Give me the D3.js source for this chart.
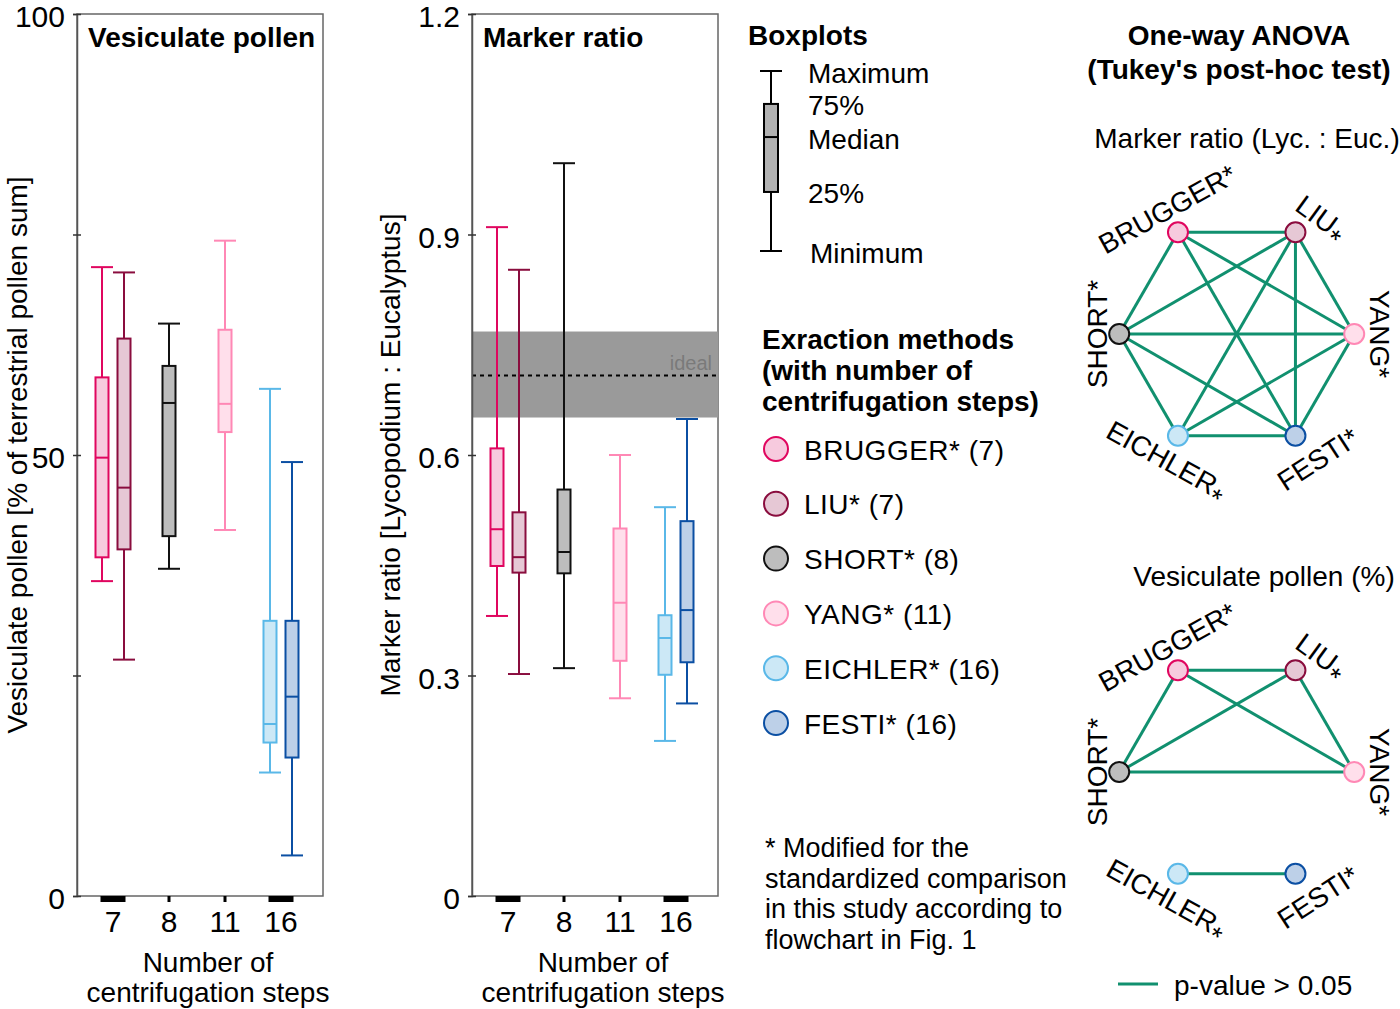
<!DOCTYPE html>
<html>
<head>
<meta charset="utf-8">
<script src="https://cdn.jsdelivr.net/npm/d3@7"></script>
<style>
  body { margin: 0; background: #fff; }
  text { font-family: "Liberation Sans", Arial, sans-serif; fill: #000; }
</style>
</head>
<body>
<div class="main"></div>
<script>
// Méthodes d'extraction et nombre d'étapes de centrifugation
const methods = ["BRUGGER", "LIU", "SHORT", "YANG", "EICHLER", "FESTI"];
const steps = ["7", "7", "8", "11", "16", "16"];
const stepGroups = ["7", "8", "11", "16"];

// Boxplots : [min, 25%, médiane, 75%, max]
const vesiculate = [
  [35.7, 38.4, 49.7, 58.8, 71.3],
  [26.8, 39.3, 46.3, 63.2, 70.7],
  [37.1, 40.8, 55.9, 60.1, 64.9],
  [41.5, 52.6, 55.8, 64.2, 74.3],
  [14.0, 17.4, 19.5, 31.2, 57.5],
  [4.6, 15.7, 22.6, 31.2, 49.2]
];
const markerRatio = [
  [0.381, 0.449, 0.499, 0.609, 0.910],
  [0.302, 0.440, 0.461, 0.522, 0.852],
  [0.310, 0.439, 0.468, 0.553, 0.997],
  [0.269, 0.320, 0.399, 0.500, 0.600],
  [0.211, 0.301, 0.351, 0.382, 0.529],
  [0.262, 0.318, 0.389, 0.510, 0.649]
];
const idealBand = [0.651, 0.768];
const idealValue = 0.708;

const vesiculateTicks = [0, 25, 50, 75, 100];
const ratioTicks = [0, 0.3, 0.6, 0.9, 1.2];

// Couleurs
const strokeColors = ["#e0065f", "#8a0d3e", "#111111", "#ff88b5", "#5ab8e8", "#0b4fa3"];
const fillColors = ["#f7cade", "#e6c8d5", "#bdbdbd", "#ffdfeb", "#cce8f6", "#bdd0e8"];

// Légende boxplot (schéma)
const legendStats = [0, 0.328, 0.633, 0.817, 1];
const legendLabels = ["Minimum", "25%", "Median", "75%", "Maximum"];

// ANOVA : positions angulaires des méthodes et paires non significatives
const methodAngles = [120, 60, 180, 0, -120, -60];
const labelAngles = [119, 54, 180, 0, -119, -57];
const labelRadii = [143, 144, 140, 143, 144, 149];
const lowStar = ["LIU", "EICHLER"];
const markerEdges = [
  ["BRUGGER", "LIU"], ["BRUGGER", "SHORT"], ["BRUGGER", "YANG"], ["BRUGGER", "FESTI"],
  ["LIU", "SHORT"], ["LIU", "EICHLER"], ["LIU", "FESTI"], ["LIU", "YANG"],
  ["SHORT", "YANG"], ["SHORT", "EICHLER"], ["SHORT", "FESTI"],
  ["YANG", "EICHLER"], ["YANG", "FESTI"], ["EICHLER", "FESTI"]
];
const vesiculateEdges = [
  ["BRUGGER", "LIU"], ["BRUGGER", "SHORT"], ["BRUGGER", "YANG"],
  ["LIU", "SHORT"], ["LIU", "YANG"], ["SHORT", "YANG"], ["EICHLER", "FESTI"]
];

const W = 1400, H = 1009;
const svg = d3.select('.main').append('svg')
    .attr('width', W).attr('height', H);

const plotW = 246, plotH = 882, plotTop = 14;
const edgeColor = "#11906f";
const FS = "28px";

// Position x : groupe d'étapes + décalage dans la paire
const xGroup = d3.scalePoint().domain(stepGroups).range([36, 204]);
function xMethod(i) {
  const members = methods.filter((m, j) => steps[j] === steps[i]);
  const inner = d3.scalePoint().domain(members).range([-11, 11]);
  return xGroup(steps[i]) + inner(methods[i]);
}

function boxPanel(left, stats, domain, ticks, fmt, title, ylabel, labelOffset, extra) {
  const g = svg.append("g").attr("transform", "translate(" + left + "," + plotTop + ")");
  const y = d3.scaleLinear().domain(domain).range([plotH, 0]);

  g.append("rect").attr("width", plotW).attr("height", plotH)
    .attr("fill", "none").attr("stroke", "#666").attr("stroke-width", 1.5);

  if (extra) extra(g, y);

  const ax = g.append("g").call(d3.axisLeft(y).tickValues(ticks).tickFormat(fmt).tickSize(4).tickPadding(8));
  ax.select(".domain").attr("stroke", "#555").attr("stroke-width", 1.5);
  ax.selectAll(".tick line").attr("x1", -4).attr("x2", 4).attr("stroke", "#333").attr("stroke-width", 1.5);
  ax.selectAll(".tick text").style("font-size", "30px").attr("fill", "#000").attr("dy", "0.42em")
    .style("font-family", '"Liberation Sans", Arial, sans-serif');

  // Marques de groupes sur l'axe x
  stepGroups.forEach(function(s) {
    const xs = methods.map((m, i) => i).filter(i => steps[i] === s).map(xMethod);
    g.append("rect")
      .attr("x", d3.min(xs) - 1.5).attr("y", plotH)
      .attr("width", d3.max(xs) - d3.min(xs) + 3).attr("height", 6)
      .attr("fill", "#000");
    g.append("text").attr("x", xGroup(s)).attr("y", plotH + 36)
      .attr("text-anchor", "middle").style("font-size", "30px").text(s);
  });

  // Boxplots
  const bw = 13, cw = 22;
  stats.forEach(function(d, i) {
    const cx = xMethod(i);
    const b = g.append("g").attr("stroke", strokeColors[i]).attr("stroke-width", 2);
    b.append("line").attr("x1", cx).attr("x2", cx).attr("y1", y(d[4])).attr("y2", y(d[0]));
    b.append("line").attr("x1", cx - cw / 2).attr("x2", cx + cw / 2).attr("y1", y(d[4])).attr("y2", y(d[4]));
    b.append("line").attr("x1", cx - cw / 2).attr("x2", cx + cw / 2).attr("y1", y(d[0])).attr("y2", y(d[0]));
    b.append("rect").attr("x", cx - bw / 2).attr("y", y(d[3]))
      .attr("width", bw).attr("height", y(d[1]) - y(d[3])).attr("fill", fillColors[i]);
    b.append("line").attr("x1", cx - bw / 2).attr("x2", cx + bw / 2).attr("y1", y(d[2])).attr("y2", y(d[2]));
  });

  g.append("text").attr("x", 11).attr("y", 33)
    .style("font-size", FS).style("font-weight", "bold").text(title);

  g.append("text").attr("transform", "translate(" + labelOffset + "," + (plotH / 2) + ") rotate(-90)")
    .attr("text-anchor", "middle").attr("dominant-baseline", "central")
    .style("font-size", FS).text(ylabel);

  g.append("text").attr("x", 131).attr("y", plotH + 76).attr("text-anchor", "middle")
    .style("font-size", FS).text("Number of");
  g.append("text").attr("x", 131).attr("y", plotH + 106).attr("text-anchor", "middle")
    .style("font-size", FS).text("centrifugation steps");
}

boxPanel(77, vesiculate, [0, 100], vesiculateTicks, d => d % 50 === 0 ? d : "",
  "Vesiculate pollen", "Vesiculate pollen [% of terrestrial pollen sum]", -60);

boxPanel(472, markerRatio, [0, 1.2], ratioTicks, d => d === 0 ? "0" : d3.format(".1f")(d),
  "Marker ratio", "Marker ratio [Lycopodium : Eucalyptus]", -82,
  function(g, y) {
    g.append("rect").attr("x", 0).attr("width", plotW)
      .attr("y", y(idealBand[1])).attr("height", y(idealBand[0]) - y(idealBand[1]))
      .attr("fill", "#9a9a9a");
    g.append("line").attr("x1", 0).attr("x2", plotW)
      .attr("y1", y(idealValue)).attr("y2", y(idealValue))
      .attr("stroke", "#000").attr("stroke-width", 2).attr("stroke-dasharray", "4,4");
    g.append("text").attr("x", plotW - 6).attr("y", y(idealValue) - 6)
      .attr("text-anchor", "end").style("font-size", "20px").style("fill", "#7a7a7a").text("ideal");
  });

// Légende des boxplots
const lg = svg.append("g");
lg.append("text").attr("x", 748).attr("y", 45).style("font-size", FS)
  .style("font-weight", "bold").text("Boxplots");
const ly = d3.scaleLinear().domain([0, 1]).range([251, 71]);
const lx = 771;
lg.append("line").attr("x1", lx).attr("x2", lx).attr("y1", ly(1)).attr("y2", ly(0))
  .attr("stroke", "#000").attr("stroke-width", 2);
[0, 4].forEach(k => lg.append("line").attr("x1", lx - 11).attr("x2", lx + 11)
  .attr("y1", ly(legendStats[k])).attr("y2", ly(legendStats[k])).attr("stroke", "#000").attr("stroke-width", 2));
lg.append("rect").attr("x", lx - 7).attr("width", 14)
  .attr("y", ly(legendStats[3])).attr("height", ly(legendStats[1]) - ly(legendStats[3]))
  .attr("fill", "#b2b2b2").attr("stroke", "#000").attr("stroke-width", 2);
lg.append("line").attr("x1", lx - 7).attr("x2", lx + 7)
  .attr("y1", ly(legendStats[2])).attr("y2", ly(legendStats[2])).attr("stroke", "#000").attr("stroke-width", 2);
legendLabels.forEach(function(t, k) {
  lg.append("text").attr("x", k === 0 ? 810 : 808).attr("y", ly(legendStats[k]) + 2)
    .attr("dominant-baseline", "central").style("font-size", FS).text(t);
});

// Légende des méthodes
["Exraction methods", "(with number of", "centrifugation steps)"].forEach(function(t, k) {
  svg.append("text").attr("x", 762).attr("y", 349 + k * 31).style("font-size", FS)
    .style("font-weight", "bold").text(t);
});
const my = d3.scalePoint().domain(methods).range([449, 723]);
methods.forEach(function(m, i) {
  svg.append("circle").attr("cx", 776).attr("cy", my(m)).attr("r", 12)
    .attr("fill", fillColors[i]).attr("stroke", strokeColors[i]).attr("stroke-width", 2);
  svg.append("text").attr("x", 804).attr("y", my(m) + 1).attr("dominant-baseline", "central")
    .style("font-size", FS).style("letter-spacing", "0.5px").text(m + "* (" + steps[i] + ")");
});

["* Modified for the", "standardized comparison", "in this study according to", "flowchart in Fig. 1"]
  .forEach(function(t, k) {
    svg.append("text").attr("x", 765).attr("y", 857 + k * 30.5).style("font-size", "27px").text(t);
  });

// ANOVA
["One-way ANOVA", "(Tukey's post-hoc test)"].forEach(function(t, k) {
  svg.append("text").attr("x", 1239).attr("y", 45 + k * 34).attr("text-anchor", "middle")
    .style("font-size", FS).style("font-weight", "bold").text(t);
});

function anovaGraph(cx, cy, edges, title, titleX, titleY) {
  const g = svg.append("g").attr("transform", "translate(" + cx + "," + cy + ")");
  const R = 117.5;
  const pos = {};
  methods.forEach(function(m, i) {
    const a = methodAngles[i] * Math.PI / 180;
    pos[m] = [R * Math.cos(a), -R * Math.sin(a)];
  });
  edges.forEach(function(e) {
    g.append("line").attr("x1", pos[e[0]][0]).attr("y1", pos[e[0]][1])
      .attr("x2", pos[e[1]][0]).attr("y2", pos[e[1]][1])
      .attr("stroke", edgeColor).attr("stroke-width", 3);
  });
  methods.forEach(function(m, i) {
    g.append("circle").attr("cx", pos[m][0]).attr("cy", pos[m][1]).attr("r", 10)
      .attr("fill", fillColors[i]).attr("stroke", strokeColors[i]).attr("stroke-width", 2);
    const th = labelAngles[i];
    const a = th * Math.PI / 180;
    const rl = labelRadii[i];
    const rot = th === 180 ? -90 : (th >= 0 ? 90 - th : -90 - th);
    const t = g.append("text")
      .attr("transform", "translate(" + (rl * Math.cos(a)) + "," + (-rl * Math.sin(a)) + ") rotate(" + rot + ")")
      .attr("text-anchor", "middle").attr("dominant-baseline", "central")
      .style("font-size", FS);
    t.append("tspan").text(m);
    t.append("tspan").attr("dy", lowStar.includes(m) ? "0.35em" : 0).text("*");
  });
  svg.append("text").attr("x", titleX).attr("y", titleY).attr("text-anchor", "middle")
    .style("font-size", FS).text(title);
}

anovaGraph(1236.7, 334, markerEdges, "Marker ratio (Lyc. : Euc.)", 1247, 148);
anovaGraph(1236.7, 772, vesiculateEdges, "Vesiculate pollen (%)", 1264, 586);

svg.append("line").attr("x1", 1118).attr("x2", 1158).attr("y1", 984).attr("y2", 984)
  .attr("stroke", edgeColor).attr("stroke-width", 3);
svg.append("text").attr("x", 1174).attr("y", 985).attr("dominant-baseline", "central")
  .style("font-size", FS).text("p-value > 0.05");
</script>
</body>
</html>
